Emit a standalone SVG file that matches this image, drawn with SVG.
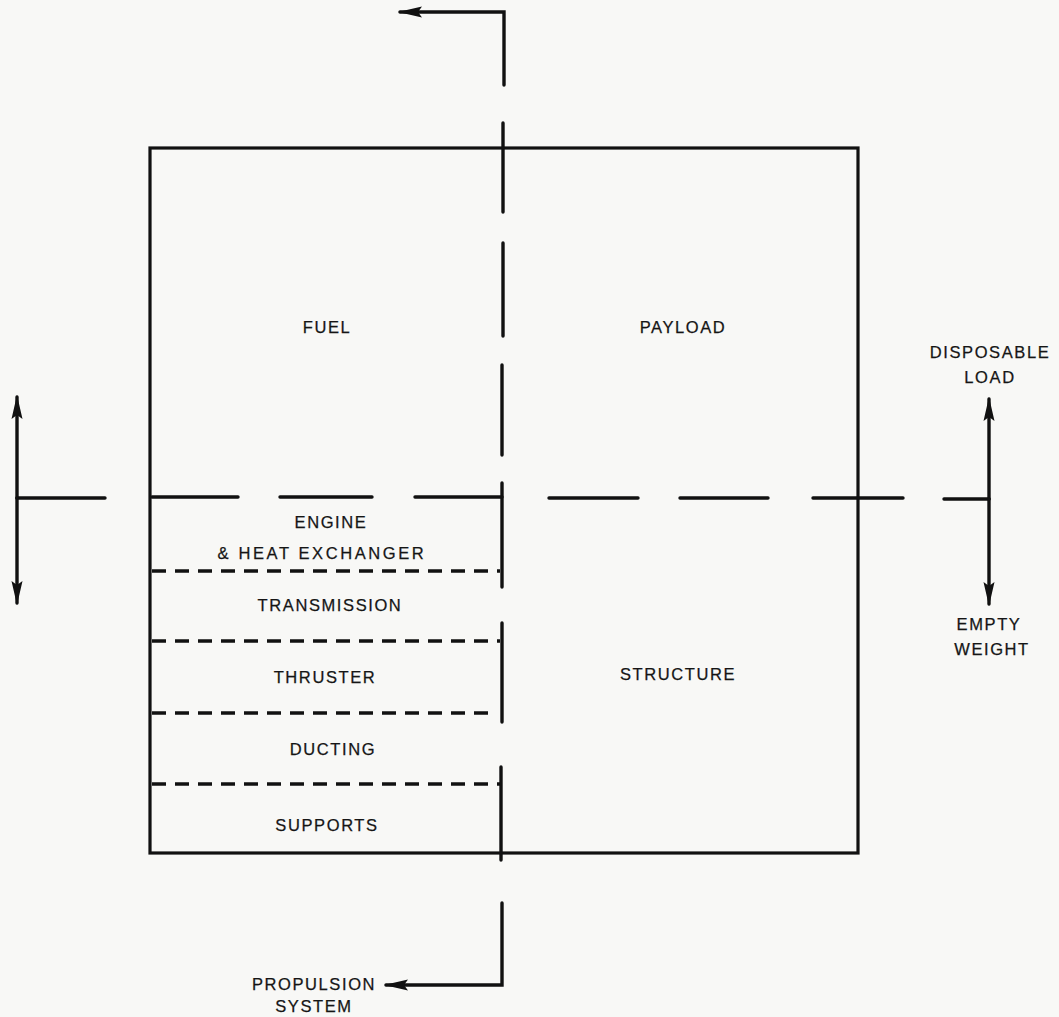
<svg xmlns="http://www.w3.org/2000/svg" width="1059" height="1017" viewBox="0 0 1059 1017">
<style>
.bg{fill:#f8f8f6}
.ln{stroke:#111;stroke-width:3.4;fill:none;stroke-linecap:round}
.sd{stroke:#111;stroke-width:3.4;fill:none;stroke-dasharray:14 9}
.box{stroke:#111;stroke-width:3.2;fill:none}
text{font-family:"Liberation Sans",Arial,sans-serif;font-size:16.5px;fill:#151515;text-anchor:middle;letter-spacing:1.6px;stroke:#151515;stroke-width:0.25}
</style>
<defs>
<marker id="ah" markerUnits="userSpaceOnUse" markerWidth="26" markerHeight="14" refX="22" refY="7" orient="auto-start-reverse" viewBox="0 0 26 14">
<path d="M0,1.5 L24,7 L0,12.5 L4,7 Z" fill="#111"/>
</marker>
</defs>
<rect class="bg" width="1059" height="1017"/>
<g id="frame">
<rect class="box" x="150" y="148" width="708" height="705"/>
</g>
<g id="connectors">
<path class="ln" d="M504,85 V12 H400" marker-end="url(#ah)"/>
<path class="ln" d="M503,123 V212 M503,243 V336 M502,365 V455 M502,483 V587 M502,623 V722 M501,767 V860"/>
<path class="ln" d="M502,903 V985 H386" marker-end="url(#ah)"/>
<path class="ln" d="M17,498 H105 M152,497 H238 M280,497 H372 M415,497 H502 M549,498 H638 M680,498 H768 M813,498 H903 M944,499 H989"/>
<path class="sd" d="M152,571 H500"/>
<path class="sd" d="M152,641 H500"/>
<path class="sd" d="M152,713 H493"/>
<path class="sd" d="M152,784 H500"/>
<path class="ln" d="M17,498 V397" marker-end="url(#ah)"/>
<path class="ln" d="M17,498 V603" marker-end="url(#ah)"/>
<path class="ln" d="M989,499 V399" marker-end="url(#ah)"/>
<path class="ln" d="M989,499 V604" marker-end="url(#ah)"/>
</g>
<g id="fuel"><text x="327" y="333">FUEL</text></g>
<g id="payload"><text x="683" y="333">PAYLOAD</text></g>
<g id="engine"><text x="331" y="528">ENGINE</text><text x="322" y="559" style="letter-spacing:2.6px">&amp; HEAT EXCHANGER</text></g>
<g id="transmission"><text x="330" y="611">TRANSMISSION</text></g>
<g id="thruster"><text x="325" y="683">THRUSTER</text></g>
<g id="ducting"><text x="333" y="755">DUCTING</text></g>
<g id="supports"><text x="327" y="831">SUPPORTS</text></g>
<g id="structure"><text x="678" y="680">STRUCTURE</text></g>
<g id="disposable-load"><text x="990" y="358">DISPOSABLE</text><text x="990" y="383">LOAD</text></g>
<g id="empty-weight"><text x="989" y="630">EMPTY</text><text x="992" y="655">WEIGHT</text></g>
<g id="propulsion-system"><text x="314" y="990">PROPULSION</text><text x="314" y="1012">SYSTEM</text></g>
</svg>
